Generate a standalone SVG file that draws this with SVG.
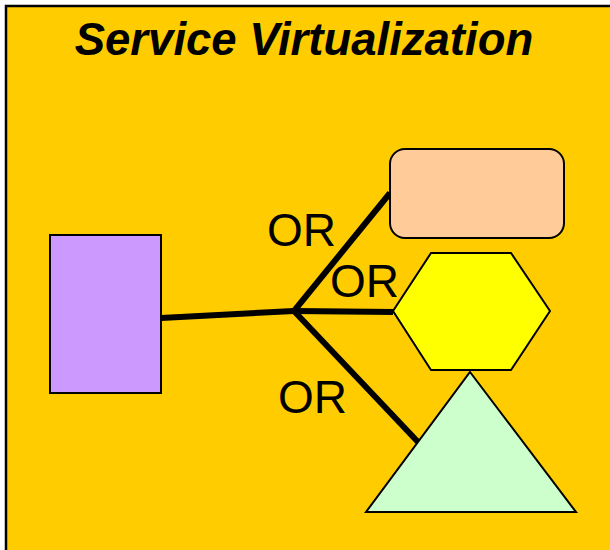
<svg xmlns="http://www.w3.org/2000/svg" width="610" height="550" viewBox="0 0 610 550">
<style>
.lbl{font-family:"Liberation Sans",Arial,sans-serif;font-size:46px;fill:#000}
.title{font-family:"Liberation Sans",Arial,sans-serif;font-size:45.5px;font-weight:bold;font-style:italic;fill:#000}
.shape{stroke:#000;stroke-width:2}
.conn{stroke:#000;stroke-width:6;fill:none;stroke-linecap:butt}
</style>
<rect width="610" height="550" fill="#fff"/>
<rect x="6" y="6" width="620" height="560" fill="#FFCC00" stroke="#000" stroke-width="2.5"/>
<text class="title" x="304" y="55" text-anchor="middle">Service Virtualization</text>
<g id="connectors">
<line class="conn" x1="161" y1="318" x2="294" y2="311"/>
<line class="conn" x1="294" y1="311" x2="390" y2="193"/>
<line class="conn" x1="294" y1="311" x2="393" y2="312"/>
<line class="conn" x1="294" y1="311" x2="418" y2="442"/>
</g>
<g id="source"><rect class="shape" x="50" y="235" width="111" height="158" fill="#CC99FF"/></g>
<g id="rounded-target"><rect class="shape" x="390" y="149" width="174" height="89" rx="15" fill="#FFCC99"/></g>
<g id="hexagon-target"><polygon class="shape" points="393,311 431,253 511,253 550,311 511,370 431,370" fill="#FFFF00"/></g>
<g id="triangle-target"><polygon class="shape" points="470,372 576,512 366,512" fill="#CCFFCC"/></g>
<g id="labels">
<text class="lbl" x="267" y="246">OR</text>
<text class="lbl" x="330" y="297">OR</text>
<text class="lbl" x="278" y="413">OR</text>
</g>
</svg>
